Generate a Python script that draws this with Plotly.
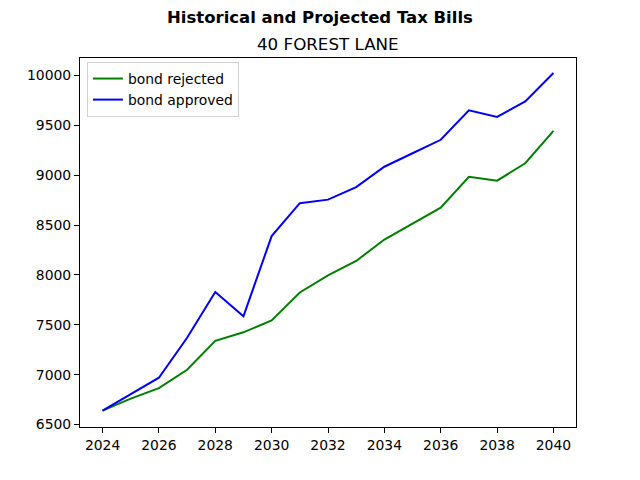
import plotly.graph_objects as go

years = list(range(2024, 2041))
bond_rejected = [6640, 6760, 6865, 7050, 7340, 7425, 7545, 7825, 7995, 8140, 8355, 8515, 8675, 8985, 8945, 9120, 9445]
bond_approved = [6640, 6805, 6970, 7370, 7830, 7585, 8390, 8720, 8755, 8880, 9085, 9220, 9355, 9650, 9585, 9740, 10025]
x_ticks = list(range(2024, 2041, 2))
y_ticks = list(range(6500, 10001, 500))

fig = go.Figure()
fig.add_trace(go.Scatter(x=years, y=bond_rejected, mode="lines", name="bond rejected",
                         line=dict(color="green", width=2)))
fig.add_trace(go.Scatter(x=years, y=bond_approved, mode="lines", name="bond approved",
                         line=dict(color="blue", width=2)))

axis_common = dict(showgrid=False, zeroline=False, showline=True, linecolor="black", linewidth=1,
                   mirror=True, ticks="outside", ticklen=5, tickcolor="black",
                   tickfont=dict(size=13.9, color="black"))
plot_h = 369
fig.update_layout(
    width=632, height=472,
    margin=dict(l=72, r=64, t=50, b=53),
    paper_bgcolor="white", plot_bgcolor="white",
    font=dict(family="DejaVu Sans", color="black"),
    xaxis=dict(range=[2023.2, 2040.8], tickvals=x_ticks, ticktext=[str(v) for v in x_ticks], **axis_common),
    yaxis=dict(range=[6476, 10175], tickvals=y_ticks, ticktext=[str(v) for v in y_ticks], **axis_common),
    legend=dict(x=0.014, y=(427 - 62) / plot_h, xanchor="left", yanchor="top",
                bgcolor="rgba(255,255,255,0.8)", bordercolor="#d0d0d0", borderwidth=1,
                font=dict(size=13.9), tracegroupgap=0),
    showlegend=True,
    annotations=[
        dict(text="<b>Historical and Projected Tax Bills</b>", x=(320 - 80) / 496, y=(427 - 5.6) / plot_h,
             xref="paper", yref="paper", showarrow=False, font=dict(size=16.5),
             xanchor="center", yanchor="top"),
        dict(text="40 FOREST LANE", x=0.5, y=(427 - 55.5) / plot_h, xref="paper", yref="paper",
             showarrow=False, font=dict(size=16.7), xanchor="center", yanchor="bottom"),
    ],
)
fig.write_html("out.html")
